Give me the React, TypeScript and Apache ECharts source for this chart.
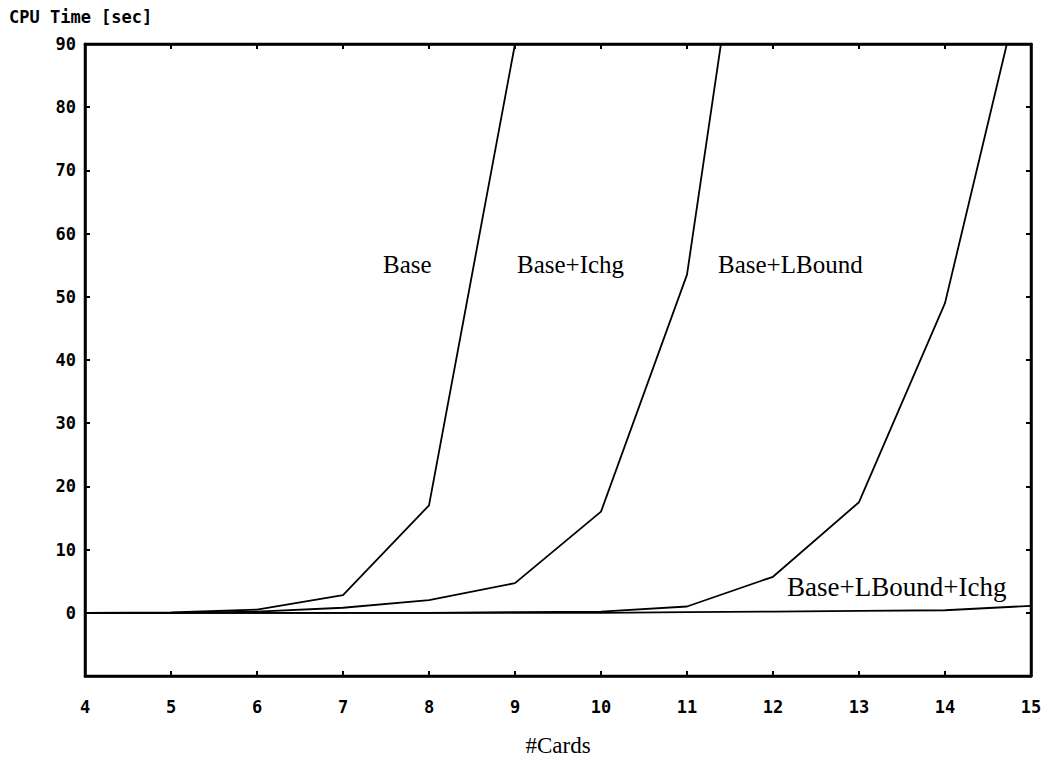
import React, { useEffect, useRef } from "react";
import * as echarts from "echarts";

const cards = [4, 5, 6, 7, 8, 9, 10, 11, 12, 13, 14, 15];
const baseVals = [0, 0.05, 0.5, 2.8, 17, 90];
const baseIchgVals = [0, 0, 0.2, 0.8, 2, 4.7, 16, 53.5, 146];
const baseLBoundVals = [0, 0, 0, 0, 0, 0.1, 0.2, 1.0, 5.7, 17.5, 49, 106];
const baseLBoundIchgVals = [0, 0, 0, 0, 0, 0, 0, 0.1, 0.2, 0.3, 0.4, 1.1];
const yTicks = [-10, 0, 10, 20, 30, 40, 50, 60, 70, 80, 90];

const seriesNames = ["Base", "Base+Ichg", "Base+LBound", "Base+LBound+Ichg"];

const pair = (vals: number[]) => vals.map((v, i) => [cards[i], v]);

export default function App() {
  const ref = useRef<HTMLDivElement>(null);
  useEffect(() => {
    if (!ref.current) return;
    const chart = echarts.init(ref.current, undefined, { renderer: "svg" });
    const monoFont = "'DejaVu Sans Mono', monospace";
    const serif = "'Liberation Serif', 'Times New Roman', serif";
    const lineSeries = (name: string, vals: number[]) => ({
      name,
      type: "line",
      data: pair(vals),
      showSymbol: false,
      symbol: "none",
      clip: true,
      lineStyle: { color: "#000", width: 1.8 },
    });
    const axisLine = { show: true, onZero: false, lineStyle: { color: "#000", width: 2.5 } };
    const axisTick = { show: true, inside: true, length: 5, lineStyle: { color: "#000", width: 2 } };
    chart.setOption({
      animation: false,
      backgroundColor: "#fff",
      grid: {
        left: 85,
        right: 17,
        top: 44,
        bottom: 81,
        containLabel: false,
        outerBoundsMode: "none",
        show: true,
        borderColor: "#000",
        borderWidth: 2.5,
      },
      xAxis: [
        {
          type: "value",
          min: 4,
          max: 15,
          interval: 1,
          position: "bottom",
          axisLine,
          axisTick,
          axisLabel: {
            color: "#000",
            fontFamily: monoFont,
            fontWeight: "bold",
            fontSize: 17,
            margin: 22,
          },
          splitLine: { show: false },
          name: "#Cards",
          nameLocation: "middle",
          nameGap: 58,
          nameTextStyle: { color: "#000", fontFamily: serif, fontSize: 23 },
        },
        {
          type: "value",
          min: 4,
          max: 15,
          interval: 1,
          position: "top",
          axisLine,
          axisTick,
          axisLabel: { show: false },
          splitLine: { show: false },
        },
      ],
      yAxis: [
        {
          type: "value",
          min: yTicks[0],
          max: yTicks[yTicks.length - 1],
          interval: 10,
          position: "left",
          axisLine,
          axisTick,
          axisLabel: {
            color: "#000",
            fontFamily: monoFont,
            fontWeight: "bold",
            fontSize: 17,
            margin: 9,
            formatter: (v: number) => (v < 0 ? "" : String(v)),
          },
          splitLine: { show: false },
        },
        {
          type: "value",
          min: yTicks[0],
          max: yTicks[yTicks.length - 1],
          interval: 10,
          position: "right",
          axisLine,
          axisTick,
          axisLabel: { show: false },
          splitLine: { show: false },
        },
      ],
      series: [
        lineSeries(seriesNames[0], baseVals),
        lineSeries(seriesNames[1], baseIchgVals),
        lineSeries(seriesNames[2], baseLBoundVals),
        lineSeries(seriesNames[3], baseLBoundIchgVals),
      ],
      graphic: [
        {
          type: "text",
          left: 9,
          top: 8,
          style: {
            text: "CPU Time [sec]",
            fill: "#000",
            font: `bold 17px ${monoFont}`,
          },
        },
        {
          type: "text",
          left: 383,
          top: 252,
          style: { text: seriesNames[0], fill: "#000", font: `25px ${serif}` },
        },
        {
          type: "text",
          left: 517,
          top: 252,
          style: { text: seriesNames[1], fill: "#000", font: `25px ${serif}` },
        },
        {
          type: "text",
          left: 718,
          top: 252,
          style: { text: seriesNames[2], fill: "#000", font: `25px ${serif}` },
        },
        {
          type: "text",
          left: 787,
          top: 573,
          style: { text: seriesNames[3], fill: "#000", font: `27px ${serif}` },
        },
      ],
    });
    return () => chart.dispose();
  }, []);
  return <div ref={ref} style={{ width: 1048, height: 757, position: "absolute", left: 0, top: 0 }} />;
}
